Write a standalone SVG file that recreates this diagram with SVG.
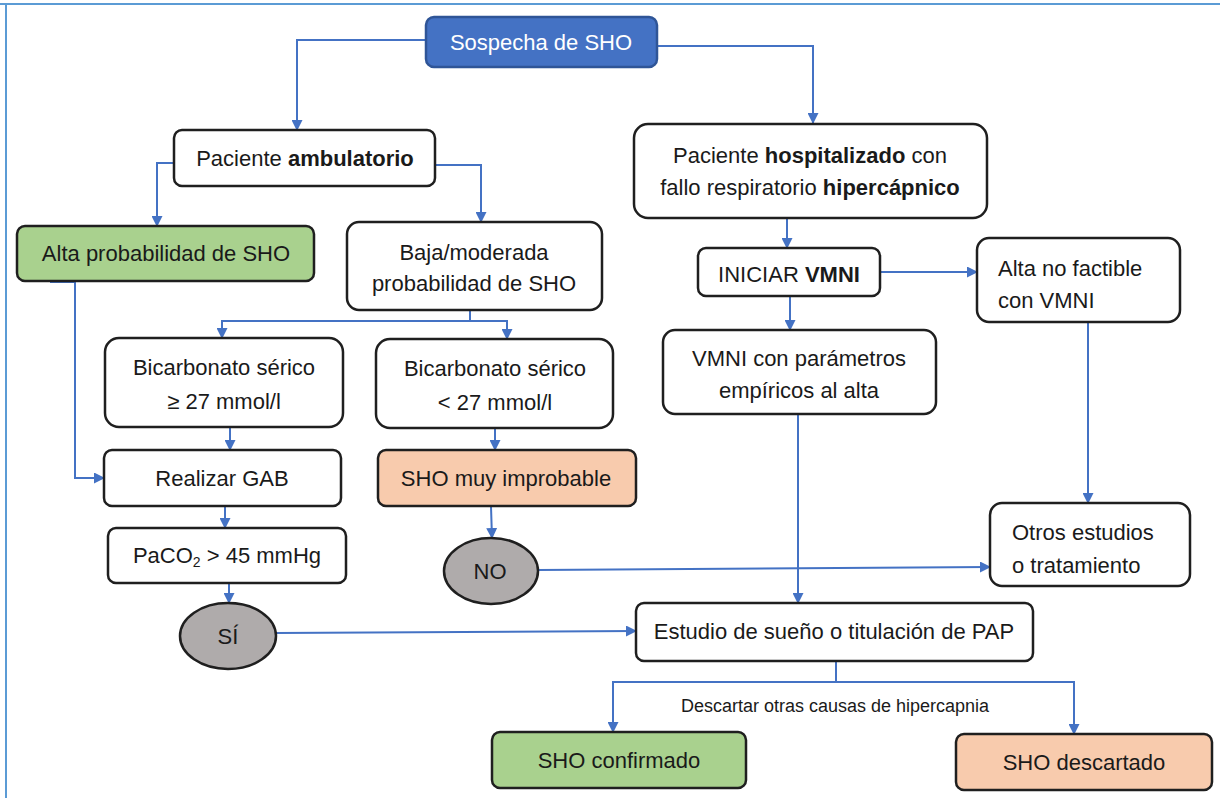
<svg xmlns="http://www.w3.org/2000/svg" width="1220" height="798" viewBox="0 0 1220 798">
<defs>
<marker id="ah" markerWidth="11" markerHeight="11" refX="10" refY="5.5" orient="auto" markerUnits="userSpaceOnUse" viewBox="0 0 11 11">
<path d="M0,0 L11,5.5 L0,11 z" fill="#4472C4"/>
</marker>
<style>
.box{fill:#fff;stroke:#1f1f1f;stroke-width:2.5}
.green{fill:#A9D18E}
.peach{fill:#F8CBAD}
.oval{fill:#AFABAB;stroke:#1f1f1f;stroke-width:2.5}
.t{font-family:"Liberation Sans",Arial,sans-serif;font-size:22px;fill:#1a1a1a;text-anchor:middle}
.l{text-anchor:start}
.b{font-weight:bold}
.c{fill:none;stroke:#4472C4;stroke-width:2}
.a{marker-end:url(#ah)}
</style>
</defs>
<rect width="1220" height="798" fill="#fff"/>
<g id="frame">
<line x1="0" y1="4" x2="1220" y2="4" stroke="#5B9BD5" stroke-width="2"/>
<line x1="6" y1="3" x2="6" y2="798" stroke="#5B9BD5" stroke-width="2"/>
</g>
<g id="connectors">
<polyline class="c a" points="427,40 297,40 297,130"/>
<polyline class="c a" points="657,46 813,46 813,123"/>
<polyline class="c a" points="174,163 157,163 157,226"/>
<polyline class="c a" points="435,165 481,165 481,222"/>
<polyline class="c a" points="50,282 75,282 75,478 104,478"/>
<polyline class="c" points="470,310 470,321"/>
<polyline class="c a" points="470,321 222,321 222,338"/>
<polyline class="c a" points="470,321 507,321 507,339"/>
<line class="c a" x1="230" y1="427" x2="230" y2="450"/>
<line class="c a" x1="495" y1="428" x2="495" y2="450"/>
<line class="c a" x1="225" y1="506" x2="225" y2="528"/>
<line class="c a" x1="229" y1="583" x2="229" y2="603"/>
<line class="c a" x1="491" y1="506" x2="492" y2="538"/>
<line class="c a" x1="538" y1="570" x2="990" y2="567"/>
<line class="c a" x1="276" y1="633" x2="636" y2="631"/>
<line class="c a" x1="787" y1="218" x2="787" y2="248"/>
<line class="c a" x1="790" y1="296" x2="790" y2="330"/>
<line class="c a" x1="880" y1="272" x2="977" y2="272"/>
<line class="c a" x1="798" y1="414" x2="798" y2="603"/>
<line class="c a" x1="1088" y1="322" x2="1088" y2="503"/>
<polyline class="c" points="836,661 836,682"/>
<polyline class="c a" points="836,682 613,682 613,732"/>
<polyline class="c a" points="836,682 1074,682 1074,734"/>
</g>
<g id="sospecha">
<rect x="426" y="17" width="231" height="50" rx="8" fill="#4472C4" stroke="#2F5597" stroke-width="2.5"/>
<text class="t" x="541" y="50" style="fill:#fff">Sospecha de SHO</text>
</g>
<g id="ambulatorio">
<rect class="box" x="174" y="130" width="261" height="56" rx="8"/>
<text class="t" x="305" y="166">Paciente <tspan class="b">ambulatorio</tspan></text>
</g>
<g id="alta-prob">
<rect class="box green" x="17" y="226" width="297" height="55" rx="8"/>
<text class="t" x="166" y="261">Alta probabilidad de SHO</text>
</g>
<g id="baja-prob">
<rect class="box" x="347" y="222" width="255" height="88" rx="12"/>
<text class="t" x="474" y="260">Baja/moderada</text>
<text class="t" x="474" y="291">probabilidad de SHO</text>
</g>
<g id="hospitalizado">
<rect class="box" x="634" y="124" width="353" height="94" rx="14"/>
<text class="t" x="810" y="163">Paciente <tspan class="b">hospitalizado</tspan> con</text>
<text class="t" x="810" y="195">fallo respiratorio <tspan class="b">hipercápnico</tspan></text>
</g>
<g id="iniciar">
<rect class="box" x="698" y="248" width="182" height="48" rx="8"/>
<text class="t" x="789" y="282">INICIAR <tspan class="b">VMNI</tspan></text>
</g>
<g id="alta-no-factible">
<rect class="box" x="977" y="238" width="203" height="84" rx="12"/>
<text class="t l" x="998" y="276">Alta no factible</text>
<text class="t l" x="998" y="308">con VMNI</text>
</g>
<g id="vmni-param">
<rect class="box" x="663" y="330" width="273" height="84" rx="12"/>
<text class="t" x="799" y="366">VMNI con parámetros</text>
<text class="t" x="799" y="398">empíricos al alta</text>
</g>
<g id="bic-alto">
<rect class="box" x="105" y="338" width="238" height="89" rx="14"/>
<text class="t" x="224" y="375">Bicarbonato sérico</text>
<text class="t" x="224" y="409">≥ 27 mmol/l</text>
</g>
<g id="bic-bajo">
<rect class="box" x="376" y="339" width="237" height="89" rx="14"/>
<text class="t" x="495" y="376">Bicarbonato sérico</text>
<text class="t" x="495" y="410">&lt; 27 mmol/l</text>
</g>
<g id="gab">
<rect class="box" x="104" y="450" width="237" height="56" rx="8"/>
<text class="t" x="222" y="486">Realizar GAB</text>
</g>
<g id="improbable">
<rect class="box peach" x="378" y="450" width="258" height="56" rx="8"/>
<text class="t" x="506" y="486">SHO muy improbable</text>
</g>
<g id="paco2">
<rect class="box" x="108" y="528" width="238" height="55" rx="8"/>
<text class="t" x="227" y="563">PaCO<tspan font-size="14" dy="4">2</tspan><tspan dy="-4"> &gt; 45 mmHg</tspan></text>
</g>
<g id="no">
<ellipse class="oval" cx="491" cy="571" rx="47" ry="33"/>
<text class="t" x="490" y="579">NO</text>
</g>
<g id="si">
<ellipse class="oval" cx="228" cy="636" rx="48" ry="33"/>
<text class="t" x="228" y="644">SÍ</text>
</g>
<g id="otros">
<rect class="box" x="990" y="503" width="200" height="83" rx="12"/>
<text class="t l" x="1012" y="540">Otros estudios</text>
<text class="t l" x="1012" y="573">o tratamiento</text>
</g>
<g id="estudio">
<rect class="box" x="636" y="603" width="397" height="58" rx="8"/>
<text class="t" x="834" y="639">Estudio de sueño o titulación de PAP</text>
</g>
<text class="t" x="835" y="712" style="font-size:18px">Descartar otras causas de hipercapnia</text>
<g id="confirmado">
<rect class="box green" x="492" y="732" width="254" height="56" rx="8"/>
<text class="t" x="619" y="768">SHO confirmado</text>
</g>
<g id="descartado">
<rect class="box peach" x="956" y="734" width="256" height="56" rx="8"/>
<text class="t" x="1084" y="770">SHO descartado</text>
</g>
</svg>
